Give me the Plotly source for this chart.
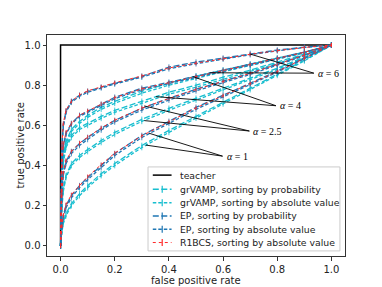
import plotly.graph_objects as go

# ---- data ----
fpr = [0, 0.002, 0.005, 0.01, 0.02, 0.04, 0.07, 0.1, 0.15, 0.2, 0.3, 0.4, 0.5, 0.6, 0.7, 0.8, 0.9, 1.0]

teacher_x = [0, 0, 1]
teacher_y = [0, 1, 1]

# alpha = 6
ep_prob_a6 = [0, 0.35, 0.50, 0.60, 0.67, 0.72, 0.75, 0.77, 0.79, 0.81, 0.845, 0.89, 0.915, 0.935, 0.958, 0.975, 0.99, 1.0]
ep_abs_a6 = [0, 0.34, 0.49, 0.59, 0.665, 0.715, 0.745, 0.765, 0.787, 0.806, 0.84, 0.882, 0.907, 0.93, 0.952, 0.971, 0.988, 1.0]
r1_abs_a6 = [0, 0.36, 0.50, 0.61, 0.675, 0.72, 0.752, 0.772, 0.792, 0.812, 0.846, 0.886, 0.91, 0.932, 0.954, 0.972, 0.988, 1.0]
gr_prob_a6 = [0, 0.20, 0.35, 0.45, 0.52, 0.58, 0.62, 0.65, 0.69, 0.72, 0.77, 0.81, 0.845, 0.875, 0.905, 0.935, 0.965, 1.0]
gr_abs_a6 = [0, 0.19, 0.34, 0.44, 0.51, 0.57, 0.61, 0.64, 0.68, 0.71, 0.76, 0.80, 0.835, 0.867, 0.898, 0.93, 0.962, 1.0]

# alpha = 4
ep_prob_a4 = [0, 0.25, 0.40, 0.50, 0.56, 0.61, 0.65, 0.67, 0.705, 0.74, 0.785, 0.815, 0.845, 0.875, 0.905, 0.935, 0.965, 1.0]
ep_abs_a4 = [0, 0.24, 0.39, 0.49, 0.555, 0.605, 0.645, 0.665, 0.70, 0.733, 0.778, 0.808, 0.838, 0.868, 0.899, 0.93, 0.962, 1.0]
r1_abs_a4 = [0, 0.26, 0.40, 0.50, 0.565, 0.61, 0.65, 0.672, 0.707, 0.738, 0.782, 0.812, 0.842, 0.872, 0.902, 0.932, 0.964, 1.0]
gr_prob_a4 = [0, 0.20, 0.32, 0.42, 0.50, 0.55, 0.59, 0.61, 0.645, 0.675, 0.72, 0.765, 0.80, 0.84, 0.875, 0.915, 0.955, 1.0]
gr_abs_a4 = [0, 0.19, 0.31, 0.41, 0.49, 0.54, 0.58, 0.60, 0.635, 0.665, 0.71, 0.755, 0.79, 0.83, 0.867, 0.908, 0.951, 1.0]

# alpha = 2.5
ep_prob_a25 = [0, 0.15, 0.25, 0.36, 0.42, 0.47, 0.51, 0.54, 0.585, 0.625, 0.685, 0.735, 0.78, 0.82, 0.86, 0.905, 0.95, 1.0]
ep_abs_a25 = [0, 0.14, 0.24, 0.35, 0.41, 0.46, 0.50, 0.53, 0.577, 0.617, 0.676, 0.726, 0.772, 0.813, 0.854, 0.9, 0.947, 1.0]
r1_abs_a25 = [0, 0.16, 0.26, 0.36, 0.425, 0.47, 0.512, 0.542, 0.587, 0.626, 0.686, 0.734, 0.779, 0.819, 0.859, 0.904, 0.95, 1.0]
gr_prob_a25 = [0, 0.12, 0.20, 0.28, 0.35, 0.41, 0.45, 0.48, 0.525, 0.565, 0.63, 0.685, 0.735, 0.785, 0.835, 0.885, 0.94, 1.0]
gr_abs_a25 = [0, 0.11, 0.19, 0.27, 0.34, 0.40, 0.44, 0.47, 0.515, 0.555, 0.62, 0.675, 0.726, 0.777, 0.828, 0.879, 0.936, 1.0]

# alpha = 1
ep_prob_a1 = [0, 0.06, 0.10, 0.15, 0.20, 0.25, 0.30, 0.34, 0.40, 0.46, 0.55, 0.62, 0.69, 0.75, 0.81, 0.87, 0.935, 1.0]
ep_abs_a1 = [0, 0.05, 0.09, 0.14, 0.19, 0.24, 0.29, 0.33, 0.39, 0.45, 0.54, 0.61, 0.68, 0.742, 0.803, 0.865, 0.932, 1.0]
r1_abs_a1 = [0, 0.06, 0.10, 0.15, 0.205, 0.255, 0.30, 0.345, 0.405, 0.462, 0.548, 0.618, 0.687, 0.748, 0.808, 0.868, 0.934, 1.0]
gr_prob_a1 = [0, 0.05, 0.08, 0.12, 0.16, 0.21, 0.26, 0.30, 0.36, 0.41, 0.50, 0.575, 0.645, 0.715, 0.785, 0.855, 0.925, 1.0]
gr_abs_a1 = [0, 0.04, 0.07, 0.11, 0.15, 0.20, 0.25, 0.29, 0.35, 0.40, 0.49, 0.565, 0.636, 0.707, 0.778, 0.849, 0.921, 1.0]

# annotation labels and pointer targets
alpha_labels = ["<i>α</i> = 6", "<i>α</i> = 4", "<i>α</i> = 2.5", "<i>α</i> = 1"]
label_x = [0.935, 0.795, 0.697, 0.598]
label_y = [0.860, 0.698, 0.572, 0.447]
target1_x = [0.70, 0.488, 0.309, 0.327]
target1_y = [0.955, 0.843, 0.697, 0.561]
target2_x = [0.55, 0.352, 0.309, 0.315]
target2_y = [0.862, 0.743, 0.624, 0.502]

x_ticks = [0.0, 0.2, 0.4, 0.6, 0.8, 1.0]
y_ticks = [0.0, 0.2, 0.4, 0.6, 0.8, 1.0]

x_title = "false positive rate"
y_title = "true positive rate"

legend_labels = ["teacher",
                 "grVAMP, sorting by probability",
                 "grVAMP, sorting by absolute value",
                 "EP, sorting by probability",
                 "EP, sorting by absolute value",
                 "R1BCS, sorting by absolute value"]

# ---- styles ----
CYAN = "#17becf"
BLUE = "#1f77b4"
RED = "#ff2a2a"
DASH_PROB = "6px,2.5px"
DASH_ABS = "3.5px,2px"
TEXT_FONT = dict(family="DejaVu Sans, sans-serif", size=10, color="#222")

fig = go.Figure()

fig.add_trace(go.Scatter(x=teacher_x, y=teacher_y, mode="lines", name=legend_labels[0],
                         line=dict(color="black", width=1.5)))

groups = [
    (legend_labels[1], CYAN, DASH_PROB, 1.3, 4, [gr_prob_a6, gr_prob_a4, gr_prob_a25, gr_prob_a1]),
    (legend_labels[2], CYAN, DASH_ABS, 1.3, 4, [gr_abs_a6, gr_abs_a4, gr_abs_a25, gr_abs_a1]),
    (legend_labels[3], BLUE, DASH_PROB, 1.3, 4, [ep_prob_a6, ep_prob_a4, ep_prob_a25, ep_prob_a1]),
    (legend_labels[4], BLUE, DASH_ABS, 1.3, 4, [ep_abs_a6, ep_abs_a4, ep_abs_a25, ep_abs_a1]),
    (legend_labels[5], RED, "dot", 1.0, 3, [r1_abs_a6, r1_abs_a4, r1_abs_a25, r1_abs_a1]),
]

for name, color, dash, width, msize, series in groups:
    for ys in series:
        fig.add_trace(go.Scatter(
            x=fpr, y=ys, mode="lines+markers", name=name, showlegend=False,
            line=dict(color=color, width=width, dash=dash),
            marker=dict(symbol="line-ns", size=msize, line=dict(color=color, width=0.8)),
        ))

# alpha annotations: pointer lines + labels
for lab, lx, ly, t1x, t1y, t2x, t2y in zip(alpha_labels, label_x, label_y,
                                           target1_x, target1_y, target2_x, target2_y):
    for tx, ty in ((t1x, t1y), (t2x, t2y)):
        fig.add_shape(type="line", xref="x", yref="y", x0=lx, y0=ly, x1=tx, y1=ty,
                      line=dict(color="black", width=0.9))
    fig.add_annotation(x=lx, y=ly, xref="x", yref="y", text=lab, showarrow=False,
                       xanchor="left", yanchor="middle", xshift=2,
                       font=dict(family="Liberation Serif, DejaVu Serif, serif", size=10, color="black"))

# ---- legend (drawn in paper coordinates, matplotlib-like compact layout) ----
leg_x0, leg_x1, leg_y0, leg_y1 = 0.339, 0.983, 0.023, 0.403
fig.add_shape(type="rect", xref="paper", yref="paper", x0=leg_x0, x1=leg_x1, y0=leg_y0, y1=leg_y1,
              fillcolor="rgba(255,255,255,0.85)", line=dict(color="#cccccc", width=1), layer="above")
row_y = [0.366, 0.302, 0.241, 0.181, 0.121, 0.061]
leg_styles = [("black", "solid", 1.5, False), (CYAN, DASH_PROB, 1.3, True), (CYAN, DASH_ABS, 1.3, True),
              (BLUE, DASH_PROB, 1.3, True), (BLUE, DASH_ABS, 1.3, True), (RED, "dot", 1.0, True)]
for lab, ry, (color, dash, width, tick) in zip(legend_labels, row_y, leg_styles):
    fig.add_shape(type="line", xref="paper", yref="paper", x0=0.355, x1=0.418, y0=ry, y1=ry,
                  line=dict(color=color, width=width, dash=dash), layer="above")
    if tick:
        fig.add_shape(type="line", xref="paper", yref="paper", x0=0.3866, x1=0.3866,
                      y0=ry - 0.016, y1=ry + 0.016,
                      line=dict(color=color, width=1.2), layer="above")
    fig.add_annotation(x=0.44, y=ry, xref="paper", yref="paper", text=lab, showarrow=False,
                       xanchor="left", yanchor="middle",
                       font=dict(family="DejaVu Sans, sans-serif", size=9.3, color="#222"))

# axis titles (placed explicitly to match the reference spacing)
fig.add_annotation(x=0.5, y=0, xref="paper", yref="paper", text=x_title, showarrow=False,
                   xanchor="center", yanchor="middle", yshift=-24, font=TEXT_FONT)
fig.add_annotation(x=0, y=0.5, xref="paper", yref="paper", text=y_title, showarrow=False,
                   xanchor="center", yanchor="middle", xshift=-27, textangle=-90, font=TEXT_FONT)

axis_common = dict(
    showline=True, mirror=True, linecolor="#333", linewidth=1,
    ticks="outside", ticklen=3.5, tickwidth=0.8, tickcolor="#333",
    showgrid=False, zeroline=False, tickformat=".1f", automargin=False,
    tickfont=TEXT_FONT,
)

fig.update_xaxes(range=[-0.05, 1.05], tickvals=x_ticks, **axis_common)
fig.update_yaxes(range=[-0.05, 1.05], tickvals=y_ticks, **axis_common)

# the page body has an 8px default margin, so the figure is 8px smaller
fig.update_layout(
    width=374, height=279,
    margin=dict(l=39, r=37, t=27, b=31),
    paper_bgcolor="white", plot_bgcolor="white",
    showlegend=False,
    font=dict(family="DejaVu Sans, sans-serif"),
)

fig.write_html("out.html")
